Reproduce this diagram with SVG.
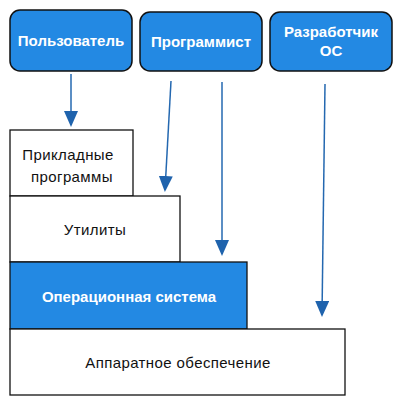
<svg xmlns="http://www.w3.org/2000/svg" width="403" height="405" viewBox="0 0 403 405">
<defs>
<style>
.actor{fill:#2389e3;stroke:#111;stroke-width:1.5}
.layer{fill:#fff;stroke:#111;stroke-width:1.3}
.os{fill:#2389e3;stroke:#111;stroke-width:1.3}
.wt{font-family:"Liberation Sans",Arial,sans-serif;font-size:15px;fill:#fff;text-anchor:middle;font-weight:bold}
.bt{font-family:"Liberation Sans",Arial,sans-serif;font-size:15px;fill:#111;text-anchor:middle;letter-spacing:0.4px}
.conn{stroke:#2468b0;stroke-width:1.5;fill:none;marker-end:url(#ah)}
</style>
<marker id="ah" viewBox="0 0 16 14" refX="14" refY="7" markerWidth="16" markerHeight="14" markerUnits="userSpaceOnUse" orient="auto">
<path d="M0,0 L16,7 L0,14 Z" fill="#1f63ad"/>
</marker>
</defs>
<rect width="403" height="405" fill="#fff"/>
<g id="user"><rect class="actor" x="10" y="10" width="122" height="61" rx="10"/><text class="wt" x="71" y="46">Пользователь</text></g>
<g id="programmer"><rect class="actor" x="140" y="12" width="122" height="59" rx="10"/><text class="wt" x="201" y="47">Программист</text></g>
<g id="osdev"><rect class="actor" x="270" y="12" width="122" height="59" rx="10"/><text class="wt" x="331" y="37">Разработчик</text><text class="wt" x="331" y="56">ОС</text></g>
<g id="apps"><rect class="layer" x="10" y="130" width="123" height="66"/><text class="bt" x="68" y="160">Прикладные</text><text class="bt" x="72" y="182">программы</text></g>
<g id="utils"><rect class="layer" x="10" y="196" width="170" height="66"/><text class="bt" x="95" y="235">Утилиты</text></g>
<g id="os"><rect class="os" x="10" y="262" width="237" height="67"/><text class="wt" x="129" y="302">Операционная система</text></g>
<g id="hw"><rect class="layer" x="10" y="329" width="335" height="66"/><text class="bt" x="178" y="368">Аппаратное обеспечение</text></g>
<g id="connectors">
<line class="conn" x1="71" y1="74" x2="71" y2="125"/>
<line class="conn" x1="171" y1="81" x2="165" y2="190"/>
<line class="conn" x1="222" y1="82" x2="222" y2="254"/>
<line class="conn" x1="325" y1="84" x2="322" y2="315"/>
</g>
</svg>
